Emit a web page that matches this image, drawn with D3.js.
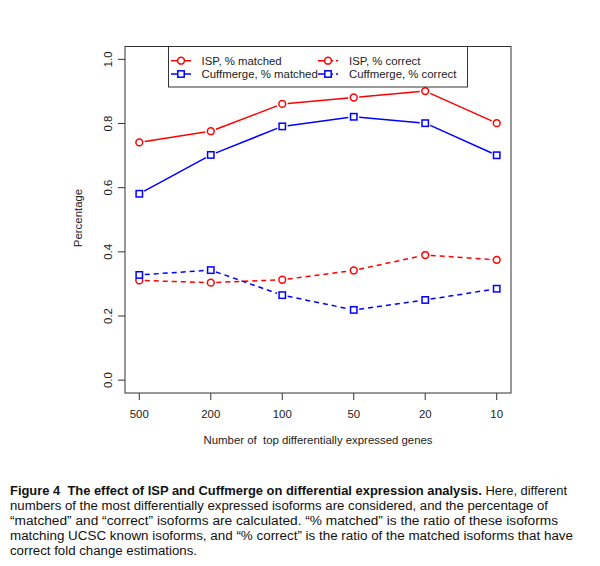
<!DOCTYPE html>
<html><head><meta charset="utf-8">
<script src="https://cdn.jsdelivr.net/npm/d3@7"></script>
<style>body{margin:0;background:#fff}svg{display:block}text{font-family:"Liberation Sans",Arial,sans-serif}</style>
</head><body>
<script>
const categories = ["500","200","100","50","20","10"];
const ispMatched  = [0.741,0.776,0.861,0.881,0.901,0.801];
const cuffMatched = [0.581,0.702,0.791,0.821,0.801,0.701];
const ispCorrect  = [0.311,0.304,0.313,0.342,0.390,0.375];
const cuffCorrect = [0.328,0.343,0.265,0.219,0.250,0.285];
const yTicks = [0,0.2,0.4,0.6,0.8,1.0];
const seriesNames = ["ISP, % matched","Cuffmerge, % matched","ISP, % correct","Cuffmerge, % correct"];
const captionBold = "Figure 4  The effect of ISP and Cuffmerge on differential expression analysis.";
const captionLines = [
 " Here, different",
 "numbers of the most differentially expressed isoforms are considered, and the percentage of",
 "\u201cmatched\u201d and \u201ccorrect\u201d isoforms are calculated. \u201c% matched\u201d is the ratio of these isoforms",
 "matching UCSC known isoforms, and \u201c% correct\u201d is the ratio of the matched isoforms that have",
 "correct fold change estimations."
];

const W=600,H=566;
const FS=11.4;
const svg=d3.select("body").append("svg").attr("width",W).attr("height",H);
const L=125,R=511,T=46.5,B=393;
const x=d3.scaleLinear().domain([0.8,6.2]).range([L,R]);
const y=d3.scaleLinear().domain([-0.04,1.04]).range([B,T]);

svg.append("rect").attr("x",L).attr("y",T).attr("width",R-L).attr("height",B-T)
  .attr("fill","none").attr("stroke","#333").attr("stroke-width",1);

// y axis (R style: ticks outward from the box)
const ya=svg.append("g");
yTicks.forEach(t=>{
  ya.append("line").attr("x1",L-7).attr("x2",L).attr("y1",y(t)).attr("y2",y(t)).attr("stroke","#333");
  ya.append("text").attr("transform",`translate(108,${y(t)}) rotate(-90)`)
    .attr("text-anchor","middle").attr("dy","0.35em").attr("font-size",FS).attr("fill","#222")
    .text(t.toFixed(1));
});
// x axis
const xa=svg.append("g");
categories.forEach((c,i)=>{
  xa.append("line").attr("x1",x(i+1)).attr("x2",x(i+1)).attr("y1",B).attr("y2",B+7).attr("stroke","#333");
  xa.append("text").attr("x",x(i+1)).attr("y",417.5).attr("text-anchor","middle").attr("font-size",FS).attr("fill","#222").text(c);
});
svg.append("text").attr("x",318).attr("y",443.5).attr("text-anchor","middle").attr("font-size",FS)
  .attr("fill","#222").style("white-space","pre").text("Number of  top differentially expressed genes");
svg.append("text").attr("transform","translate(82,218) rotate(-90)").attr("text-anchor","middle")
  .attr("font-size",FS).attr("fill","#222").text("Percentage");

const series=[
 {vals:ispMatched,color:"#ff0000",dash:null,shape:"circle"},
 {vals:cuffMatched,color:"#0000ff",dash:null,shape:"square"},
 {vals:ispCorrect,color:"#ff0000",dash:"5,4",shape:"circle"},
 {vals:cuffCorrect,color:"#0000ff",dash:"5,4",shape:"square"}
];
function marker(g,cx,cy,s){
  if(s.shape==="circle") g.append("circle").attr("cx",cx).attr("cy",cy).attr("r",3.4)
     .attr("fill","#fff").attr("stroke",s.color).attr("stroke-width",1.5);
  else g.append("rect").attr("x",cx-3.2).attr("y",cy-3.2).attr("width",6.4).attr("height",6.4)
     .attr("fill","#fff").attr("stroke",s.color).attr("stroke-width",1.5);
}
series.forEach(s=>{
  const g=svg.append("g");
  s.vals.forEach((v,i)=>{
    if(i===0) return;
    const x0=x(i),y0=y(s.vals[i-1]),x1=x(i+1),y1=y(v);
    const dx=x1-x0,dy=y1-y0,len=Math.hypot(dx,dy),gap=5.5;
    g.append("line").attr("x1",x0+dx*gap/len).attr("y1",y0+dy*gap/len)
     .attr("x2",x1-dx*gap/len).attr("y2",y1-dy*gap/len)
     .attr("stroke",s.color).attr("stroke-width",1.5).attr("stroke-dasharray",s.dash);
  });
  s.vals.forEach((v,i)=>marker(g,x(i+1),y(v),s));
});

// legend
const lg=svg.append("g");
lg.append("rect").attr("x",168.5).attr("y",T).attr("width",299).attr("height",40.5)
  .attr("fill","#fff").attr("stroke","#333");
const pos=[[171,60.7],[171,74],[318,60.7],[318,74]];
series.forEach((s,k)=>{
  const [lx,ly]=pos[k];
  lg.append("line").attr("x1",lx).attr("x2",lx+20).attr("y1",ly).attr("y2",ly)
    .attr("stroke",s.color).attr("stroke-width",1.5).attr("stroke-dasharray",s.dash?"6,3":null);
  marker(lg,lx+10,ly,s);
  lg.append("text").attr("x",k<2?201.5:349).attr("y",ly).attr("dy","0.35em")
    .attr("font-size",FS).attr("fill","#222").text(seriesNames[k]);
});

// caption
const cap=svg.append("g").attr("font-family","'DejaVu Sans',sans-serif").attr("font-size",12.5).attr("fill","#111");
const lineW=[557,538,548,563,187];
const baseY=[494.5,509.5,524.5,539.5,554.5];
const t0=cap.append("text").attr("x",10).attr("y",baseY[0]).style("white-space","pre")
  .attr("textLength",lineW[0]).attr("lengthAdjust","spacingAndGlyphs");
t0.append("tspan").attr("font-weight","bold").text(captionBold);
t0.append("tspan").text(captionLines[0]);
for(let i=1;i<5;i++){
  cap.append("text").attr("x",10).attr("y",baseY[i]).attr("textLength",lineW[i])
   .attr("lengthAdjust","spacingAndGlyphs").text(captionLines[i]);
}
</script>
</body></html>
